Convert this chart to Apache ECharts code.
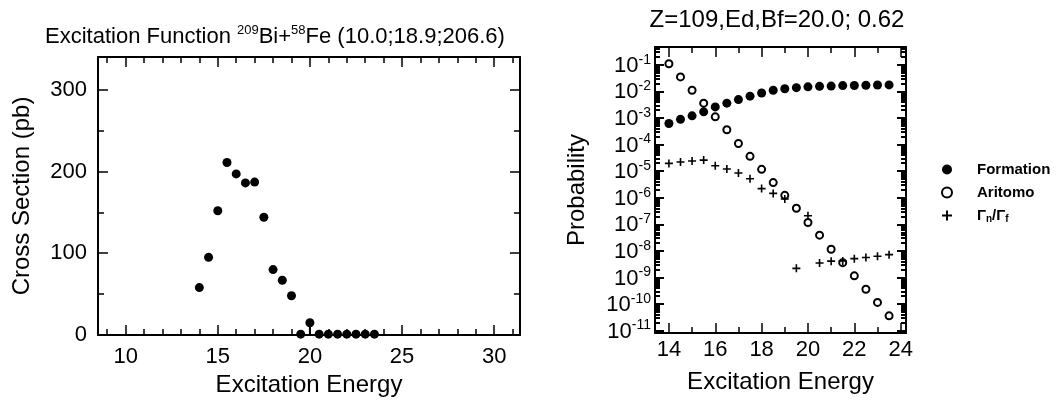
<!DOCTYPE html>
<html><head><meta charset="utf-8">
<script src="https://cdn.jsdelivr.net/npm/echarts@6/dist/echarts.min.js"></script>
<style>html,body{margin:0;padding:0;background:#fff}#c{width:1062px;height:402px}</style>
</head><body><div id="c"></div>
<script>
// ---------- data: left panel (excitation function) ----------
const energyLeft = [14.0,14.5,15.0,15.5,16.0,16.5,17.0,17.5,18.0,18.5,19.0,19.5,20.0,20.5,21.0,21.5,22.0,22.5,23.0,23.5];
const crossSection = [58,95,152,211,197,186,187,144,80,67,48,1,15,1,1,1,1,1,1,1];
const errorBars = [[20.0, 0, 15]];
const leftXMajor = [10,15,20,25,30];
const leftXMinor = [9,11,12,13,14,16,17,18,19,21,22,23,24,26,27,28,29,31];
const leftYMajor = [0,100,200,300];
const leftYMinor = [50,150,250];

// ---------- data: right panel (probabilities) ----------
const energyRight = [14.0,14.5,15.0,15.5,16.0,16.5,17.0,17.5,18.0,18.5,19.0,19.5,20.0,20.5,21.0,21.5,22.0,22.5,23.0,23.5];
const formation = [6.2e-4,8.9e-4,1.2e-3,1.7e-3,2.6e-3,3.6e-3,4.9e-3,6.6e-3,8.7e-3,1.1e-2,1.26e-2,1.38e-2,1.48e-2,1.55e-2,1.58e-2,1.65e-2,1.66e-2,1.7e-2,1.74e-2,1.75e-2];
const aritomo = [1.1e-1,3.5e-2,1.1e-2,3.6e-3,1.1e-3,3.6e-4,1.1e-4,3.6e-5,1.17e-5,3.7e-6,1.23e-6,4.0e-7,1.17e-7,3.9e-8,1.15e-8,3.6e-9,1.15e-9,3.6e-10,1.15e-10,3.6e-11];
const gammaRatio = [1.95e-5,2.2e-5,2.4e-5,2.6e-5,1.6e-5,1.2e-5,8.5e-6,5.2e-6,2.2e-6,1.45e-6,8.9e-7,2.2e-9,2.1e-7,3.5e-9,4.1e-9,4.2e-9,5.1e-9,5.6e-9,6.3e-9,7.2e-9];
const rightXMajor = [14,16,18,20,22,24];
const rightXMinor = [15,17,19,21,23];
const rightYExponents = [-1,-2,-3,-4,-5,-6,-7,-8,-9,-10,-11];

const rightYMajor = rightYExponents.map(e => Math.pow(10, e));
const rightYMinor = [];
rightYExponents.forEach(e => { for (let k = 2; k <= 9; k++) rightYMinor.push(k * Math.pow(10, e)); });

const FONT = 'Liberation Sans';
const plusPath = 'path://M4,0 L6,0 L6,4 L10,4 L10,6 L6,6 L6,10 L4,10 L4,6 L0,6 L0,4 L4,4 Z';

function ax(o) {
  const base = {
    gridIndex: o.grid, type: o.type || 'value', position: o.pos,
    min: o.min, max: o.max, logBase: 10,
    axisLine: { show: !!o.line, onZero: false, lineStyle: { color: '#000', width: 2 } },
    axisTick: { show: true, inside: true, length: o.len, customValues: o.ticks, lineStyle: { color: '#000', width: o.tw || 1.5 } },
    axisLabel: { show: false },
    splitLine: { show: false }, minorTick: { show: false }, minorSplitLine: { show: false }
  };
  if (o.labels) {
    base.axisLabel = Object.assign({ show: true, customValues: o.labels, color: '#000', fontFamily: FONT, fontSize: 22, margin: o.margin }, o.labelExtra || {});
  }
  if (o.name) {
    base.name = o.name; base.nameLocation = 'middle'; base.nameGap = o.nameGap;
    base.nameTextStyle = { color: '#000', fontFamily: FONT, fontSize: 24 };
  }
  return base;
}

const xAxes = [
  ax({grid:0, pos:'bottom', min:8.5, max:31.4, line:true, len:10, ticks:leftXMajor, labels:leftXMajor, margin:11, name:'Excitation Energy', nameGap:36}),
  ax({grid:0, pos:'bottom', min:8.5, max:31.4, len:6, ticks:leftXMinor}),
  ax({grid:0, pos:'top', min:8.5, max:31.4, line:true, len:10, ticks:leftXMajor}),
  ax({grid:0, pos:'top', min:8.5, max:31.4, len:6, ticks:leftXMinor}),
  ax({grid:1, pos:'bottom', min:13.4, max:24.23, line:true, len:10, ticks:rightXMajor, labels:rightXMajor, margin:6, name:'Excitation Energy', nameGap:37}),
  ax({grid:1, pos:'bottom', min:13.4, max:24.23, len:6, ticks:rightXMinor}),
  ax({grid:1, pos:'top', min:13.4, max:24.23, line:true, len:10, ticks:rightXMajor}),
  ax({grid:1, pos:'top', min:13.4, max:24.23, len:6, ticks:rightXMinor})
];
const yMin = Math.pow(10, -11.09), yMax = Math.pow(10, -0.33);
const supLabel = {
  formatter: v => '{b|10}{s|' + Math.round(Math.log10(v)) + '}',
  rich: {
    b: { fontSize: 22, fontFamily: FONT, color: '#000', lineHeight: 24, verticalAlign: 'bottom' },
    s: { fontSize: 14, fontFamily: FONT, color: '#000', lineHeight: 14, verticalAlign: 'top' }
  }
};
const yAxes = [
  ax({grid:0, pos:'left', min:0, max:340, line:true, len:10, ticks:leftYMajor, labels:leftYMajor, margin:11, name:'Cross Section (pb)', nameGap:64}),
  ax({grid:0, pos:'left', min:0, max:340, len:6, ticks:leftYMinor}),
  ax({grid:0, pos:'right', min:0, max:340, line:true, len:10, ticks:leftYMajor}),
  ax({grid:0, pos:'right', min:0, max:340, len:6, ticks:leftYMinor}),
  ax({grid:1, type:'log', pos:'left', min:yMin, max:yMax, line:true, len:9, tw:2, ticks:rightYMajor, labels:rightYMajor, margin:4, labelExtra:supLabel, name:'Probability', nameGap:66}),
  ax({grid:1, type:'log', pos:'left', min:yMin, max:yMax, len:5, tw:2, ticks:rightYMinor}),
  ax({grid:1, type:'log', pos:'right', min:yMin, max:yMax, line:true, len:9, tw:2, ticks:rightYMajor}),
  ax({grid:1, type:'log', pos:'right', min:yMin, max:yMax, len:5, tw:2, ticks:rightYMinor})
];

const pairs = (xs, ys) => xs.map((x, i) => [x, ys[i]]);

const option = {
  animation: false,
  backgroundColor: '#fff',
  textStyle: { fontFamily: FONT },
  title: [
    { text: '{t|Excitation Function }{s|209}{t|Bi+}{s|58}{t|Fe (10.0;18.9;206.6)}', left: 40, top: 19,
      textStyle: { fontWeight: 'normal', rich: {
        t: { fontSize: 22, fontFamily: FONT, fontWeight: 'normal', color: '#000', lineHeight: 24, verticalAlign: 'bottom' },
        s: { fontSize: 13, fontFamily: FONT, fontWeight: 'normal', color: '#000', lineHeight: 13, verticalAlign: 'top' } } } },
    { text: 'Z=109,Ed,Bf=20.0; 0.62', left: 772, textAlign: 'center', top: 3,
      textStyle: { fontSize: 24, fontFamily: FONT, color: '#000', fontWeight: 'normal' } }
  ],
  grid: [
    { left: 98, top: 57, width: 422, height: 278 },
    { left: 655, top: 47, width: 251, height: 286 }
  ],
  xAxis: xAxes,
  yAxis: yAxes,
  legend: {
    orient: 'vertical', left: 936, top: 157, itemGap: 8, itemWidth: 10, itemHeight: 10,
    textStyle: { color: '#000', fontFamily: FONT, fontSize: 15, fontWeight: 'bold', padding: [0, 0, 0, 20],
      rich: { g: { fontSize: 15, fontWeight: 'bold', fontFamily: FONT, color: '#000' }, sub: { fontSize: 10, fontWeight: 'bold', fontFamily: FONT, color: '#000', verticalAlign: 'bottom', lineHeight: 18 } } },
    formatter: n => n === 'Γn/Γf' ? '{g|Γ}{sub|n}{g|/Γ}{sub|f}' : n,
    data: [ { name: 'Formation', icon: 'circle' }, { name: 'Aritomo', icon: 'emptyCircle' }, { name: 'Γn/Γf', icon: plusPath } ]
  },
  series: [
    { type: 'custom', xAxisIndex: 0, yAxisIndex: 0, data: errorBars, z: 1,
      encode: { x: 0, y: [1, 2] },
      renderItem: (params, api) => {
        const p1 = api.coord([api.value(0), api.value(1)]);
        const p2 = api.coord([api.value(0), api.value(2)]);
        return { type: 'line', shape: { x1: p1[0], y1: p1[1], x2: p2[0], y2: p2[1] }, style: { stroke: '#000', lineWidth: 2 } };
      } },
    { type: 'scatter', name: 'Cross', xAxisIndex: 0, yAxisIndex: 0, data: pairs(energyLeft, crossSection),
      symbol: 'circle', symbolSize: 9, itemStyle: { color: '#000', opacity: 1 }, z: 3 },
    { type: 'scatter', name: 'Formation', xAxisIndex: 4, yAxisIndex: 4, data: pairs(energyRight, formation),
      symbol: 'circle', symbolSize: 9, itemStyle: { color: '#000', opacity: 1 }, z: 3 },
    { type: 'scatter', name: 'Aritomo', xAxisIndex: 4, yAxisIndex: 4, data: pairs(energyRight, aritomo),
      symbol: 'emptyCircle', symbolSize: 7, itemStyle: { color: '#000', borderColor: '#000', borderWidth: 2, opacity: 1 }, z: 3 },
    { type: 'scatter', name: 'Γn/Γf', xAxisIndex: 4, yAxisIndex: 4, data: pairs(energyRight, gammaRatio),
      symbol: plusPath, symbolSize: 8, itemStyle: { color: '#000', opacity: 1 }, z: 3 }
  ]
};
const chart = echarts.init(document.getElementById('c'), null, { renderer: 'canvas' });
chart.setOption(option);
</script></body></html>
